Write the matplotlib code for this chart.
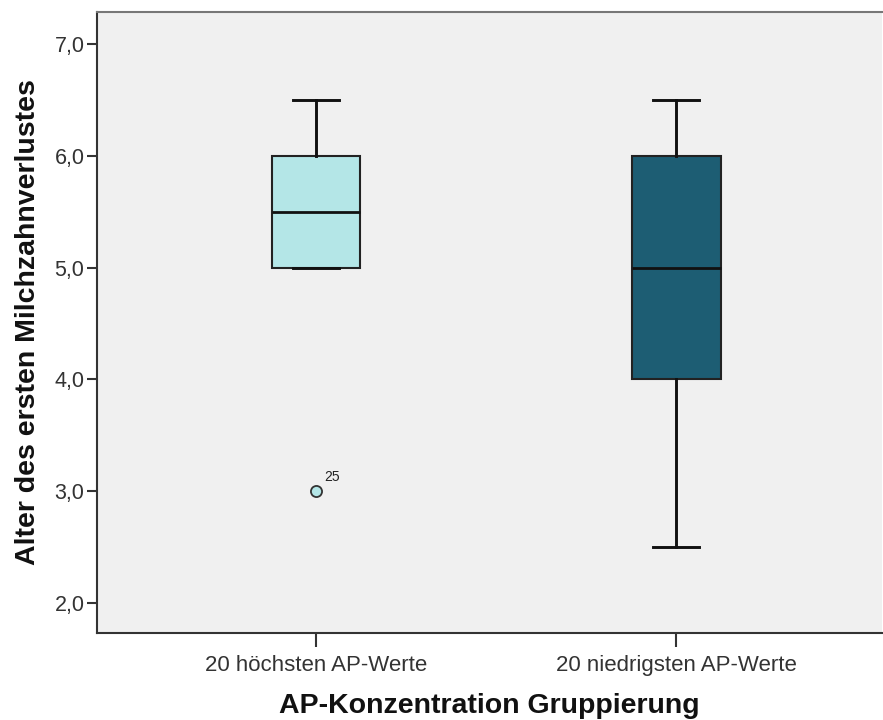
import matplotlib
matplotlib.use("Agg")
import matplotlib.pyplot as plt

# Group labels and box-plot summary values
groups = ["20 höchsten AP-Werte", "20 niedrigsten AP-Werte"]
q1 = [5.0, 4.0]
median = [5.5, 5.0]
q3 = [6.0, 6.0]
whisker_low = [5.0, 2.5]
whisker_high = [6.5, 6.5]
outliers = [[3.0], []]
outlier_ids = [["25"], []]
box_colors = ["#b4e6e7", "#1d5d73"]

y_ticks = [2.0, 3.0, 4.0, 5.0, 6.0, 7.0]

plt.rcParams["font.family"] = ["Liberation Sans", "DejaVu Sans"]

fig = plt.figure(figsize=(8.83, 7.2), dpi=100)
ax = fig.add_axes([0.1099, 0.1208, 0.8890, 0.8625])
ax.set_facecolor("#f0f0f0")

stats = []
for i, g in enumerate(groups):
    stats.append({
        "label": g,
        "q1": q1[i], "med": median[i], "q3": q3[i],
        "whislo": whisker_low[i], "whishi": whisker_high[i],
        "fliers": outliers[i],
    })

positions = [1, 2]
bp = ax.bxp(
    stats, positions=positions, widths=0.247, patch_artist=True,
    showfliers=True,
    boxprops=dict(linewidth=1.5, edgecolor="#222222"),
    medianprops=dict(color="#111111", linewidth=2.0),
    whiskerprops=dict(color="#111111", linewidth=2.1),
    capprops=dict(color="#111111", linewidth=2.1),
    capwidths=0.128,
    flierprops=dict(marker="o", markersize=8, markerfacecolor=box_colors[0],
                    markeredgecolor="#333333", markeredgewidth=1.3),
)
for patch, c in zip(bp["boxes"], box_colors):
    patch.set_facecolor(c)
for fl, c in zip(bp["fliers"], box_colors):
    fl.set_markerfacecolor(c)

# Case numbers next to the outliers
for pos, vals, ids in zip(positions, outliers, outlier_ids):
    for v, label in zip(vals, ids):
        ax.annotate(label, (pos, v), xytext=(6, 5), textcoords="offset points",
                    fontsize=10, color="#222222", ha="left", va="bottom")

ax.set_xlim(0.392, 2.572)
ax.set_ylim(1.73, 7.29)
ax.set_xticks(positions)
ax.set_xticklabels(groups)
ax.set_yticks(y_ticks)
ax.set_yticklabels([f"{t:.1f}".replace(".", ",") for t in y_ticks])

ax.tick_params(axis="y", length=7, width=1.5, color="#333333",
               labelsize=15.5, labelcolor="#333333", pad=2)
ax.tick_params(axis="x", length=10, width=1.5, color="#333333",
               labelsize=16, labelcolor="#333333", pad=6)

for side in ["left", "bottom"]:
    ax.spines[side].set_color("#333333")
    ax.spines[side].set_linewidth(1.5)
ax.spines["top"].set_color("#777777")
ax.spines["top"].set_linewidth(1.5)
ax.spines["right"].set_visible(False)

ax.set_xlabel("AP-Konzentration Gruppierung", fontsize=20.5, fontweight="bold",
              color="#111111", labelpad=12)
ax.set_ylabel("Alter des ersten Milchzahnverlustes", fontsize=20.5,
              fontweight="bold", color="#111111", labelpad=10)

fig.savefig("out.png", dpi=100, facecolor="white")
